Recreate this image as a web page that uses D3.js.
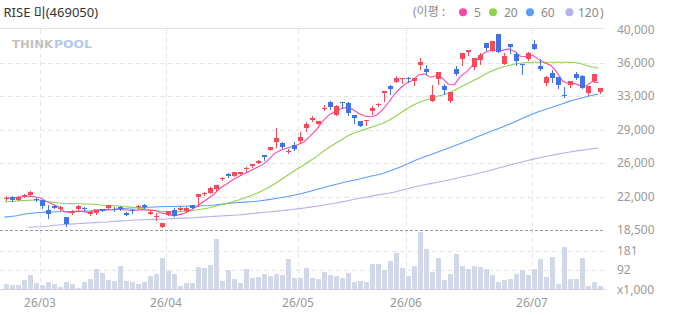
<!DOCTYPE html>
<html><head><meta charset="utf-8">
<script src="https://cdn.jsdelivr.net/npm/d3@7"></script>
<style>
body{margin:0;background:#fff}
svg{display:block;font-family:"Noto Sans","Noto Sans CJK KR",sans-serif}
</style>
</head><body>
<svg id="c" width="673" height="315"></svg>
<script>
// ---------------- data ----------------
const title = "RISE 미(469050)";
const opens = [21825,22040,21750,22145,22255,21795,21720,20645,21075,20700,19875,20270,20700,20810,20185,20270,20755,20830,20755,20935,
20360,20645,21045,21165,20250,19865,18795,20145,20645,20615,20575,21150,22005,22360,22435,22845,23935,24505,24320,24505,
25005,25360,25680,26505,27105,27930,27825,26890,27575,28070,29460,30320,29860,31520,32215,30855,32180,32075,30820,30180,
30125,31195,31840,33125,33960,34390,34645,34785,34410,36175,35750,32355,34625,33905,32355,35780,36785,37600,36000,36735,
38535,37710,39495,36335,38425,37355,36285,36850,38445,36090,34195,35340,34860,32910,34000,35265,34965,33180,34430,33285];
const highs = [22095,22115,22095,22360,22630,21880,21720,21130,21185,21020,19875,20595,21130,20915,20485,20650,20775,21185,20935,21045,
20380,20785,21215,21300,20645,20355,19260,20540,20830,21000,21000,21215,22360,22575,23140,23325,24180,24560,24720,24740,
25285,25600,25950,26540,27400,29395,27930,27150,27930,29000,30070,30715,30230,31860,32270,31840,32180,32160,30850,30230,
30280,31785,32055,33425,34000,35020,34790,34890,34800,36875,36155,34035,35430,34110,33280,36070,37460,37790,36950,37430,
38560,38740,39520,37410,38450,37620,36290,37570,38855,36765,35050,35640,34880,33855,34510,35375,35125,33950,35240,33740];
const lows = [21665,21645,21750,22080,22255,21645,20860,19825,20825,20680,18935,20220,20680,20540,20110,20250,20490,20830,20540,20645,
20060,20295,20895,20830,20185,19575,18775,20110,19970,20595,20465,20830,21045,22285,22435,22825,23805,24180,24290,24450,
24855,25300,25630,26000,27080,27360,27255,26785,27075,27855,29075,30210,29810,31355,31430,30820,31680,30855,30000,29610,
29785,30930,31785,32355,33100,34380,34195,34355,34035,35695,35160,32355,34175,33070,32215,35140,36125,37280,35780,36335,
37785,37690,37540,36320,37410,36145,35235,36660,37900,35640,34000,34355,33765,32695,33790,34675,33715,33000,34400,33125];
const closes = [21930,21750,22040,22255,22575,21720,21075,20165,20895,20970,19150,20540,21020,20720,20400,20615,20510,21185,20670,20785,
20080,20510,21110,20945,20465,20005,19225,20510,20005,20860,20860,20860,22310,22490,22970,23290,24075,24290,24685,24685,
25090,25540,25895,26290,27360,28325,27360,27000,27180,28465,29890,30530,30180,31605,31710,31785,32055,31035,30530,29645,
30255,31570,32000,33340,33605,34815,34785,34625,34785,36550,35375,32965,35405,33465,33255,35245,37440,37785,36925,37300,
38000,38715,37570,37140,38105,36635,36145,37430,37920,35770,34870,34805,33980,32835,34465,34805,33765,33930,35215,33715];
const volumes = [25,19,19,43,67,28,19,33,25,10,33,25,7,33,47,95,76,43,38,109,
38,33,24,33,62,71,147,85,71,14,28,28,104,100,114,237,38,90,47,28,
95,52,57,71,62,71,66,142,52,52,100,52,47,81,66,62,55,78,35,40,
35,120,120,91,134,172,101,63,110,272,192,82,148,44,72,167,110,96,110,105,
96,67,34,44,48,72,91,67,96,143,58,153,25,200,48,48,148,15,34,15];
const ma5 = [21900,21950,21990,22060,22110,22068,21933,21558,21286,20965,20451,20344,20515,20480,20366,20659,20653,20686,20676,20753,
20646,20646,20631,20686,20622,20607,20350,20230,20042,20121,20292,20619,20979,21476,21898,22384,23027,23423,23862,24205,
24565,24858,25179,25500,26035,26682,27046,27267,27445,27666,27979,28613,29249,30134,30783,31162,31467,31638,31423,31010,
30704,30607,30800,31362,32154,33066,33709,34234,34523,35112,35224,34860,35016,34752,34093,34067,34962,35438,36130,36939,
37490,37745,37702,37745,37906,37633,37119,37091,37247,36780,36427,36159,35469,34452,34191,34178,33970,33960,34436,34286];
const ma20 = [21504,21557,21611,21643,21686,21718,21664,21557,21472,21397,21343,21322,21311,21290,21290,21258,21183,21129,21108,21076,
21022,20968,20893,20808,20701,20593,20508,20465,20465,20486,20508,20540,20647,20754,20861,21022,21183,21343,21536,21718,
21932,22178,22414,22735,23056,23432,23860,24288,24717,25113,25520,25948,26355,26859,27319,27716,28090,28519,28840,29054,
29269,29483,29697,29911,30233,30607,31036,31464,31839,32160,32374,32588,32803,32964,33178,33446,33821,34142,34463,34784,
35159,35480,35748,35962,36123,36251,36359,36444,36466,36466,36466,36466,36466,36466,36466,36444,36337,36123,35962,35823];
const ma60 = [19876,19951,20026,20165,20272,20326,20379,20411,20433,20454,20476,20486,20508,20519,20540,20561,20593,20647,20701,20754,
20808,20861,20883,20915,20936,20968,20990,21011,21022,21033,21043,21054,21076,21097,21129,21183,21258,21322,21397,21440,
21482,21525,21579,21664,21750,21847,21954,22061,22200,22329,22489,22660,22833,23003,23185,23346,23507,23667,23806,23935,
24096,24257,24396,24557,24771,25007,25251,25540,25840,26110,26350,26570,26810,27040,27290,27520,27770,28010,28270,28540,
28790,29040,29290,29540,29800,30070,30360,30660,30930,31160,31380,31590,31810,32030,32250,32450,32620,32780,32930,33070];
const ma120 = [null,null,null,null,18794,18826,18848,18880,18987,19041,19083,19126,19169,19212,19255,19287,19330,19362,19415,19447,
19490,19544,19576,19597,19619,19640,19661,19683,19715,19747,19769,19790,19833,19876,19919,19962,20004,20037,20079,20112,
20176,20240,20304,20379,20433,20497,20561,20626,20701,20786,20861,20947,21043,21150,21257,21365,21482,21611,21739,21868,
21986,22104,22232,22339,22436,22575,22736,22896,23057,23217,23346,23464,23593,23721,23860,23999,24149,24288,24417,24578,
24738,24909,25081,25252,25424,25595,25756,25916,26066,26216,26355,26484,26602,26720,26827,26934,27030,27116,27202,27288];

const monthStartIdx = [6, 27, 49, 67, 88];
const monthLabels = ["26/03", "26/04", "26/05", "26/06", "26/07"];
const priceTickValues = [40000, 36417, 32833, 29250, 25667, 22083, 18500];
const priceTickLabels = ["40,000", "36,000", "33,000", "29,000", "26,000", "22,000", "18,500"];
const volTickValues = [181, 92, 0];
const volTickLabels = ["181", "92", "x1,000"];
const maPeriods = ["5", "20", "60", "120"];
const maColors = ["#fb48a6", "#8fd24f", "#5b9ef6", "#b3b1ee"];

// ---------------- chart ----------------
const svg = d3.select("#c");
const n = closes.length;
const idx = d3.range(n);
const plotLeft = 0, plotRight = 605;

const x = d3.scaleBand().domain(idx).range([3.5, 603.5]).paddingInner(1/6).paddingOuter(1/12);
const y = d3.scaleLinear().domain([18500, 40000]).range([230, 29.3]);
const yv = d3.scaleLinear().domain([0, 273]).range([289.3, 231.7]);
const UP = "#f94a5c", DOWN = "#4173e8";
const crisp = v => Math.round(v) + 0.5;

// top frame line
svg.append("line").attr("x1", plotLeft).attr("x2", plotRight).attr("y1", 28.5).attr("y2", 28.5)
  .attr("stroke", "#e3e3e3").attr("stroke-width", 1);

// vertical month grid
svg.append("g").selectAll("line").data(monthStartIdx).join("line")
  .attr("x1", d => x(d) + 0.5).attr("x2", d => x(d) + 0.5)
  .attr("y1", 29).attr("y2", 289)
  .attr("stroke", "#e6e6e6").attr("stroke-dasharray", "5,3");

// horizontal price grid
svg.append("g").selectAll("line").data(priceTickValues.slice(1, -1)).join("line")
  .attr("x1", plotLeft).attr("x2", plotRight)
  .attr("y1", d => crisp(y(d))).attr("y2", d => crisp(y(d)))
  .attr("stroke", "#e6e6e6").attr("stroke-dasharray", "5,3");

// volume grid
svg.append("g").selectAll("line").data(volTickValues.slice(0, 2)).join("line")
  .attr("x1", plotLeft).attr("x2", plotRight)
  .attr("y1", d => crisp(yv(d))).attr("y2", d => crisp(yv(d)))
  .attr("stroke", "#e6e6e6").attr("stroke-dasharray", "5,3");

// watermark
svg.append("text").attr("x", 12).attr("y", 47.5).attr("font-weight", 900)
  .attr("font-family", "'DejaVu Sans', sans-serif").attr("font-size", 10.5)
  .attr("fill", "#c2c2c2").attr("textLength", 41).attr("lengthAdjust", "spacingAndGlyphs").text("THINK");
svg.append("text").attr("x", 54).attr("y", 47.5).attr("font-weight", 900)
  .attr("font-family", "'DejaVu Sans', sans-serif").attr("font-size", 10.5)
  .attr("fill", "#b1caea").attr("textLength", 38).attr("lengthAdjust", "spacingAndGlyphs").text("POOL");

// volume bars
svg.append("g").selectAll("rect").data(idx).join("rect")
  .attr("x", i => x(i)).attr("width", x.bandwidth())
  .attr("y", i => yv(volumes[i])).attr("height", i => yv(0) - yv(volumes[i]))
  .attr("fill", "#d3d8e8").attr("shape-rendering", "crispEdges");

// baseline & 18,500 separator
svg.append("line").attr("x1", plotLeft).attr("x2", plotRight).attr("y1", 289.5).attr("y2", 289.5)
  .attr("stroke", "#d0d0d0");
svg.append("line").attr("x1", plotLeft).attr("x2", plotRight)
  .attr("y1", crisp(y(18500))).attr("y2", crisp(y(18500)))
  .attr("stroke", "#9a9a9a").attr("stroke-dasharray", "3,2");

// moving averages
const mas = [ma120, ma60, ma20, ma5];
const maCols = [maColors[3], maColors[2], maColors[1], maColors[0]];
mas.forEach((arr, k) => {
  const line = d3.line().defined(d => d != null).x((d, i) => x(i) + 0.5).y(d => y(d));
  svg.append("path").attr("d", line(arr)).attr("fill", "none")
    .attr("stroke", maCols[k]).attr("stroke-width", 1.1);
});

// candles
const cg = svg.append("g").attr("shape-rendering", "crispEdges");
idx.forEach(i => {
  const o = opens[i], c = closes[i];
  const col = c >= o ? UP : DOWN;
  const cx = x(i) + 2.5;
  cg.append("line").attr("x1", cx).attr("x2", cx)
    .attr("y1", Math.round(y(highs[i]))).attr("y2", Math.round(y(lows[i])) + 1)
    .attr("stroke", col).attr("stroke-width", 1);
  const top = Math.round(y(Math.max(o, c)));
  const bot = Math.round(y(Math.min(o, c)));
  cg.append("rect").attr("x", x(i)).attr("width", x.bandwidth())
    .attr("y", top).attr("height", Math.max(1, bot - top))
    .attr("fill", col);
});

// y labels
const lab = "#9a9a9a";
svg.append("g").selectAll("text").data(priceTickValues).join("text")
  .attr("x", 617).attr("y", d => y(d)).attr("dy", "0.35em")
  .attr("font-size", 12).attr("fill", lab)
  .text((d, i) => priceTickLabels[i]);
svg.append("g").selectAll("text").data(volTickValues).join("text")
  .attr("x", 617).attr("y", d => yv(d)).attr("dy", "0.35em")
  .attr("font-size", 12).attr("fill", lab)
  .text((d, i) => volTickLabels[i]);

// x labels
svg.append("g").selectAll("text").data(monthStartIdx).join("text")
  .attr("x", d => x(d)).attr("y", 306.5).attr("text-anchor", "middle")
  .attr("font-size", 12).attr("fill", lab)
  .text((d, i) => monthLabels[i]);

// title
svg.append("text").attr("x", 3.5).attr("y", 16.5).attr("font-size", 13).attr("fill", "#333").text(title);

// legend
const lg = svg.append("g").attr("font-size", 12).attr("fill", "#8a8a8a");
lg.append("text").attr("x", 413).attr("y", 16).text("(이평 :");
const dotX = [463, 493, 530, 569.5];
const numX = [474, 504, 541, 578];
maPeriods.forEach((p, k) => {
  lg.append("circle").attr("cx", dotX[k]).attr("cy", 12.3).attr("r", 4).attr("fill", maColors[k]);
  lg.append("text").attr("x", numX[k]).attr("y", 16.5).text(p);
});
lg.append("text").attr("x", 600).attr("y", 16.5).text(")");
</script>
</body></html>
